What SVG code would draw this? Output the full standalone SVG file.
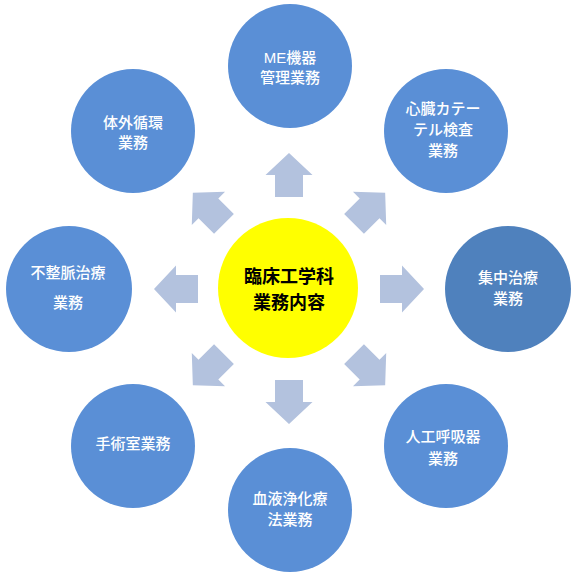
<svg xmlns="http://www.w3.org/2000/svg" xmlns:xlink="http://www.w3.org/1999/xlink" width="576" height="576" viewBox="0 0 576 576">
<style>
.node{fill:#5a8fd6;}
.dark{fill:#4f81bd;}
.lbl{font-family:"Liberation Sans","Noto Sans CJK JP",sans-serif;font-size:15px;font-weight:500;fill:#ffffff;text-anchor:middle;dominant-baseline:central;}
.center{font-family:"Noto Sans CJK JP",sans-serif;font-size:18px;font-weight:bold;fill:#000000;text-anchor:middle;dominant-baseline:central;}
.arr{fill:#b3c2de;}
</style>
<defs>
<path id="arrow" d="M0,-22 L23.5,0 L14,0 L14,22 L-14,22 L-14,0 L-23.5,0 Z"/>
</defs>
<rect width="576" height="576" fill="#ffffff"/>
<g id="connectors" class="arr">
<use xlink:href="#arrow" transform="translate(289,175)"/>
<use xlink:href="#arrow" transform="translate(369.6,208.4) rotate(45)"/>
<use xlink:href="#arrow" transform="translate(402,289) rotate(90)"/>
<use xlink:href="#arrow" transform="translate(369.6,369.6) rotate(135)"/>
<use xlink:href="#arrow" transform="translate(289,402) rotate(180)"/>
<use xlink:href="#arrow" transform="translate(208.4,369.6) rotate(225)"/>
<use xlink:href="#arrow" transform="translate(176,289) rotate(270)"/>
<use xlink:href="#arrow" transform="translate(208.4,208.4) rotate(315)"/>
</g>
<g id="center">
<circle cx="288" cy="288" r="70" fill="#ffff00"/>
<text class="center" x="289" y="275">臨床工学科</text>
<text class="center" x="289" y="301">業務内容</text>
</g>
<g id="me">
<circle class="node" cx="290" cy="66" r="62"/>
<text class="lbl" x="290" y="57">ME機器</text>
<text class="lbl" x="290" y="77">管理業務</text>
</g>
<g id="shinzo">
<circle class="node" cx="446" cy="131" r="62"/>
<text class="lbl" x="443" y="108">心臓カテー</text>
<text class="lbl" x="443" y="129">テル検査</text>
<text class="lbl" x="443" y="150">業務</text>
</g>
<g id="shuchu">
<circle class="dark" cx="508" cy="289" r="63"/>
<text class="lbl" x="508" y="277">集中治療</text>
<text class="lbl" x="508" y="298">業務</text>
</g>
<g id="jinko">
<circle class="node" cx="446" cy="446" r="62"/>
<text class="lbl" x="443" y="436">人工呼吸器</text>
<text class="lbl" x="443" y="458">業務</text>
</g>
<g id="ketsueki">
<circle class="node" cx="290" cy="510" r="62"/>
<text class="lbl" x="290" y="498">血液浄化療</text>
<text class="lbl" x="290" y="519">法業務</text>
</g>
<g id="shujutsu">
<circle class="node" cx="133" cy="446" r="62"/>
<text class="lbl" x="133" y="443">手術室業務</text>
</g>
<g id="fuseimyaku">
<circle class="node" cx="69" cy="289" r="63"/>
<text class="lbl" x="68" y="272">不整脈治療</text>
<text class="lbl" x="68" y="302">業務</text>
</g>
<g id="taigai">
<circle class="node" cx="133" cy="131" r="62"/>
<text class="lbl" x="133" y="122">体外循環</text>
<text class="lbl" x="133" y="142">業務</text>
</g>
</svg>
